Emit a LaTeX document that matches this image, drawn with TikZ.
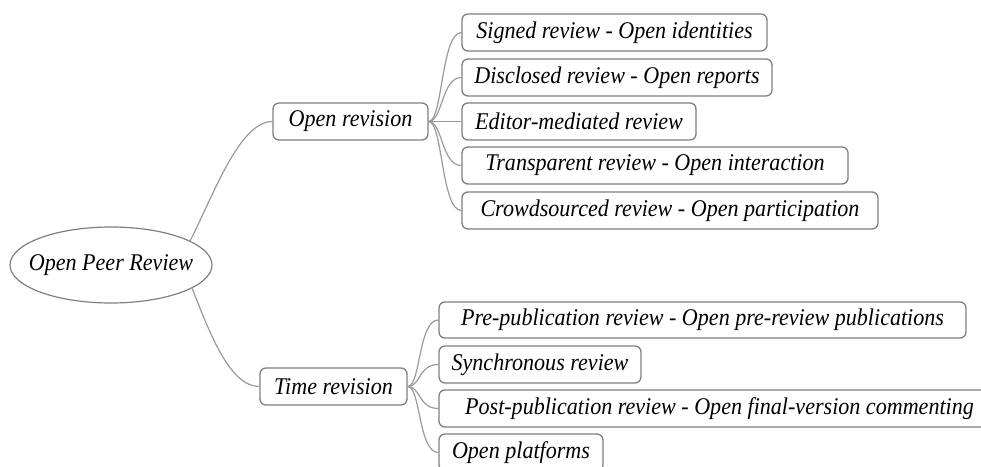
\documentclass[tikz,border=0pt]{standalone}
\usepackage{fontspec}
\setmainfont{Liberation Serif}[FakeStretch=0.92]
\usetikzlibrary{shapes.geometric}
\definecolor{boxgray}{HTML}{7F7F7F}
\definecolor{linegray}{HTML}{9A9A9A}
\begin{document}
\begin{tikzpicture}[x=1pt,y=-1pt,
  lbl/.style={font=\fontsize{24}{28}\selectfont\itshape, text=black},
  box/.style={lbl, draw=boxgray, line width=1.3pt, rounded corners=6pt, minimum height=37pt, inner sep=0pt},
  conn/.style={draw=linegray, line width=1.2pt}]
\useasboundingbox (0,0) rectangle (981,466);
\clip (0,0) rectangle (981,466);
\node[ellipse, draw=boxgray, line width=1.2pt, minimum width=202pt, minimum height=76pt, inner sep=0pt] (root) at (111,265) {};
\node[lbl, inner sep=0pt] (rootlbl) at (root.center) {Open Peer Review};
\node[box, minimum width=155pt] (or) at (350.5,121.5) {Open revision};
\node[box, minimum width=147pt] (tr) at (333.5,386.5) {Time revision};
\node[box, minimum width=305pt] (s1) at (614.5,32.5) {Signed review - Open identities};
\node[box, minimum width=310pt] (s2) at (617,77.5) {Disclosed review - Open reports};
\node[box, minimum width=234pt] (s3) at (579,121.5) {Editor-mediated review};
\node[box, minimum width=386pt] (s4) at (655,165.5) {Transparent review - Open interaction};
\node[box, minimum width=416pt] (s5) at (670,210.5) {Crowdsourced review - Open participation};
\node[box, minimum width=527pt, minimum height=36pt] (t1) at (702.5,320) {Pre-publication review - Open pre-review publications};
\node[box, minimum width=202pt] (t2) at (540,364.5) {Synchronous review};
\node[box, minimum width=561pt] (t3) at (719.5,408.5) {Post-publication review - Open final-version commenting};
\node[box, minimum width=164pt] (t4) at (521,452.5) {Open platforms};
\draw[conn] (root.17) .. controls +(23,-45) and +(-33,0) .. (or.west);
\draw[conn] (root.-16) .. controls +(17,43) and +(-30,0) .. (tr.west);
\foreach \c in {s1,s2,s3,s4,s5}
  \draw[conn] (or.east) .. controls +(14,0) and +(-20,0) .. (\c.west);
\foreach \c in {t1,t2,t3,t4}
  \draw[conn] (tr.east) .. controls +(13,0) and +(-20,0) .. (\c.west);
\end{tikzpicture}
\end{document}
